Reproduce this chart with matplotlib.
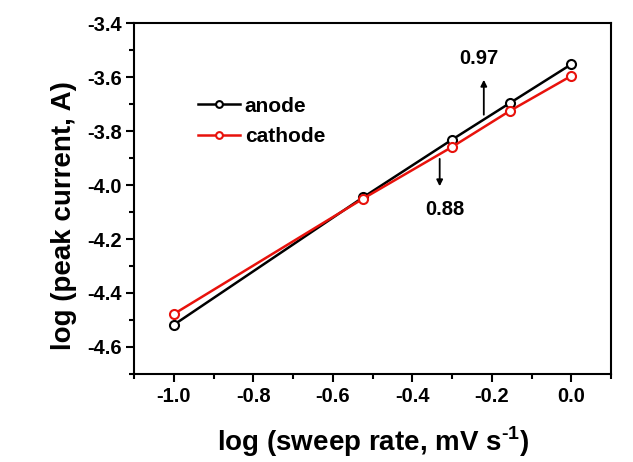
import matplotlib
matplotlib.use("Agg")
import matplotlib.pyplot as plt
from matplotlib.ticker import MultipleLocator

plt.rcParams['font.family'] = ['Liberation Sans', 'DejaVu Sans']
plt.rcParams['font.weight'] = 'bold'
plt.rcParams['axes.unicode_minus'] = False
plt.rcParams['mathtext.fontset'] = 'custom'
plt.rcParams['mathtext.rm'] = 'Liberation Sans:bold'
plt.rcParams['mathtext.bf'] = 'Liberation Sans:bold'

log_rate = [-1.0, -0.523, -0.301, -0.155, 0.0]
anode = [-4.518, -4.045, -3.833, -3.697, -3.553]
cathode = [-4.478, -4.050, -3.860, -3.726, -3.596]

fig = plt.figure(figsize=(6.33, 4.62), dpi=100)
ax = fig.add_axes([134/633, 1-374/462, (611-134)/633, (374-23)/462])

ax.plot(log_rate, anode, color='black', lw=1.8, marker='o', ms=6.5,
        mfc='white', mec='black', mew=1.5, label='anode')
ax.plot(log_rate, cathode, color='#e8120c', lw=1.8, marker='o', ms=6.5,
        mfc='white', mec='#e8120c', mew=1.5, label='cathode')

ax.set_xlim(-1.1, 0.1)
ax.set_ylim(-4.7, -3.4)
ax.xaxis.set_major_locator(MultipleLocator(0.2))
ax.xaxis.set_minor_locator(MultipleLocator(0.1))
ax.yaxis.set_major_locator(MultipleLocator(0.2))
ax.yaxis.set_minor_locator(MultipleLocator(0.1))
ax.tick_params(which='major', direction='out', length=6, width=1.5, labelsize=14.5, pad=3)
ax.tick_params(which='minor', direction='out', length=3.5, width=1.5)
for s in ax.spines.values():
    s.set_linewidth(1.5)
for lab in ax.get_xticklabels() + ax.get_yticklabels():
    lab.set_fontweight('bold')

ax.set_xlabel(r'log (sweep rate, mV s$^{\text{-1}}$)', fontsize=20, fontweight='bold')
ax.xaxis.set_label_coords(0.5, -0.145)
ax.set_ylabel('log (peak current, A)', fontsize=20, fontweight='bold')
ax.yaxis.set_label_coords(-0.12, 0.45)

ax.annotate('', xy=(-0.22, -3.60), xytext=(-0.22, -3.75),
            arrowprops=dict(arrowstyle='-|>', color='black', lw=1.3, mutation_scale=9))
ax.text(-0.233, -3.532, '0.97', fontsize=14.5, fontweight='bold', ha='center', va='center')
ax.annotate('', xy=(-0.331, -4.015), xytext=(-0.331, -3.893),
            arrowprops=dict(arrowstyle='-|>', color='black', lw=1.3, mutation_scale=9))
ax.text(-0.318, -4.09, '0.88', fontsize=14.5, fontweight='bold', ha='center', va='center')

leg = ax.legend(loc='upper left', bbox_to_anchor=(0.134, 0.79), frameon=False,
                fontsize=15, handlelength=2.0, handletextpad=0.25, labelspacing=0.55,
                borderpad=0, borderaxespad=0, markerscale=0.75)
for t in leg.get_texts():
    t.set_fontweight('bold')

fig.savefig('out.png', dpi=100)
